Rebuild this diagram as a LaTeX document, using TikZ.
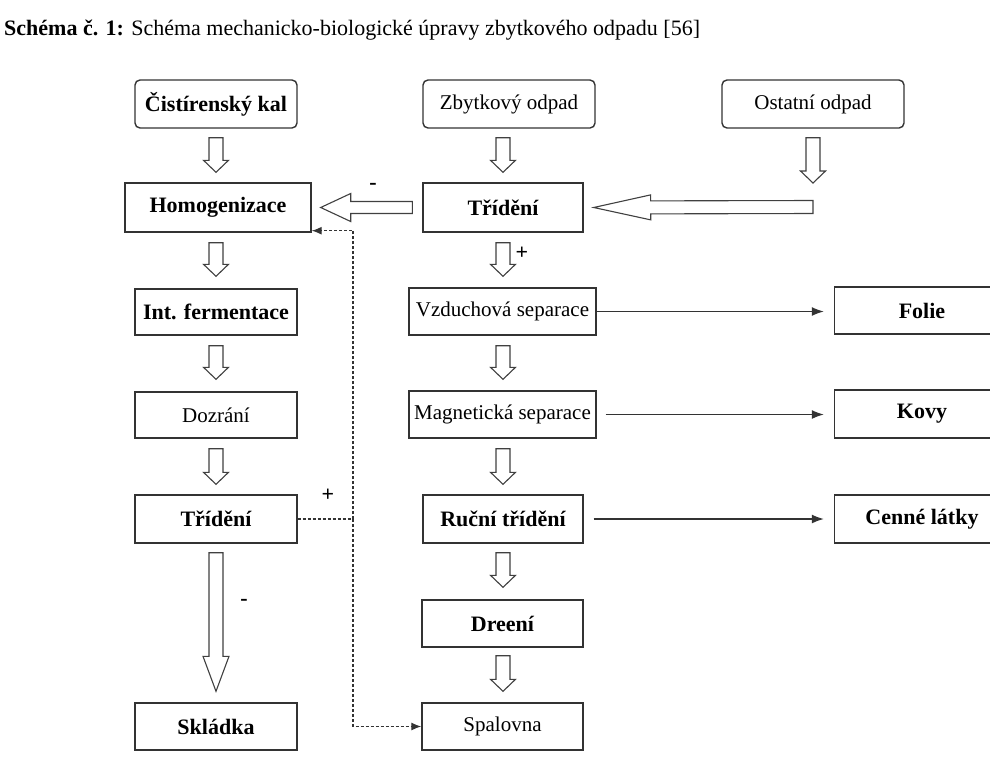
\documentclass[tikz,border=0pt]{standalone}
\usepackage{fontspec}
\setmainfont{Liberation Serif}
\usetikzlibrary{calc,arrows.meta}
\newcommand\hollowarrow[5]{%
  \path #1 coordinate (ha-s) #2 coordinate (ha-t) ($(ha-t)!#5!(ha-s)$) coordinate (ha-b);
  \draw[blockarrow] ($(ha-s)!#3!90:(ha-t)$) -- ($(ha-b)!#3!-90:(ha-s)$) -- ($(ha-b)!#4!-90:(ha-s)$)
    -- (ha-t) -- ($(ha-b)!#4!90:(ha-s)$) -- ($(ha-b)!#3!90:(ha-s)$) -- ($(ha-s)!#3!-90:(ha-t)$) -- cycle;}
\begin{document}
\begin{tikzpicture}[x=1pt,y=-1pt,
    box/.style={draw=black!80,line width=1.4pt,minimum height=47pt,inner sep=0pt,font=\fontsize{21}{24}\selectfont},
    bbox/.style={box,font=\fontsize{22}{24}\selectfont\bfseries},
    round/.style={rounded corners=5pt},
    blockarrow/.style={draw=black!75,line width=1.1pt,fill=white,line join=miter},
    flow/.style={draw=black!80,line width=1.2pt,shorten >=10pt,-{Latex[length=12pt,width=9pt]}},
    feedback/.style={draw=black!80,line width=1.2pt,dash pattern=on 3pt off 2pt,-{Latex[length=10pt,width=8pt]}},
    sign/.style={font=\fontsize{22}{22}\selectfont\bfseries,inner sep=0pt}]
\useasboundingbox (0,0) rectangle (990,772);
\clip (0,0) rectangle (990,772);
\node[anchor=base west,inner sep=0pt,font=\fontsize{22}{24}\selectfont] (title) at (4,35)
  {\textbf{Schéma č. 1:} Schéma mechanicko-biologické úpravy zbytkového odpadu [56]};
\node[bbox,round,minimum width=162pt,minimum height=48pt] (cist) at (216,104) {Čistírenský kal};
\node[box,round,minimum width=172pt,minimum height=48pt] (zbyt) at (509,104) {Zbytkový odpad};
\node[box,round,minimum width=182pt,minimum height=48pt] (ostat) at (813,104) {Ostatní odpad};
\node[bbox,minimum width=186pt,minimum height=49pt] (homog) at (218,207.5) {Homogenizace};
\node[bbox,minimum width=160pt,minimum height=49pt] (trid1) at (503,207.5) {Třídění};
\node[bbox,minimum width=162pt,minimum height=46pt] (intf) at (216,312) {Int. fermentace};
\node[box,minimum width=162pt,minimum height=46pt] (dozr) at (216,415) {Dozrání};
\node[bbox,minimum width=162pt,minimum height=48pt] (trid2) at (216,519) {Třídění};
\node[bbox,minimum width=162pt] (skla) at (216,726.5) {Skládka};
\node[box,minimum width=187pt] (vzdu) at (502.5,311.5) {Vzduchová separace};
\node[box,minimum width=187pt] (magn) at (502.5,414.5) {Magnetická separace};
\node[bbox,minimum width=160pt,minimum height=48pt] (rucn) at (503,519) {Ruční třídění};
\node[bbox,minimum width=161pt] (dren) at (502.5,623.5) {Dreení};
\node[box,minimum width=161pt] (spal) at (502.5,726.5) {Spalovna};
\node[bbox,minimum width=175pt] (foli) at (922,310.5) {Folie};
\node[bbox,minimum width=175pt,minimum height=48pt] (kovy) at (922,414) {Kovy};
\node[bbox,minimum width=175pt,minimum height=48pt] (cenn) at (922,519) {Cenné látky};
\coordinate (ostin) at (813,207);
\coordinate (junc) at (353,519);
\hollowarrow{($(cist.south)+(0,9)$)}{($(cist.south|-homog.north)+(0,-10)$)}{7pt}{12.5pt}{12pt}
\hollowarrow{($(trid1.north|-zbyt.south)+(0,9)$)}{($(trid1.north)+(0,-10)$)}{7pt}{12.5pt}{12pt}
\hollowarrow{($(ostat.south)+(0,9)$)}{($(ostin)+(0,-24)$)}{7pt}{12.5pt}{12pt}
\hollowarrow{(ostin)}{($(trid1.east)+(10,0)$)}{6.5pt}{12.5pt}{57pt}
\hollowarrow{($(trid1.west)+(-10,0)$)}{($(homog.east)+(9,0)$)}{6pt}{14pt}{30pt}
\hollowarrow{($(intf.north|-homog.south)+(0,10)$)}{($(intf.north)+(0,-12)$)}{7pt}{12.5pt}{12pt}
\hollowarrow{($(intf.south)+(0,10)$)}{($(dozr.north)+(0,-12)$)}{7pt}{12.5pt}{12pt}
\hollowarrow{($(dozr.south)+(0,10)$)}{($(trid2.north)+(0,-10)$)}{7pt}{12.5pt}{12pt}
\hollowarrow{($(trid2.south)+(0,9)$)}{($(skla.north)+(0,-11)$)}{7pt}{13pt}{35pt}
\hollowarrow{($(trid1.south)+(0,10)$)}{($(trid1.south|-vzdu.north)+(0,-11)$)}{7pt}{12.5pt}{12pt}
\hollowarrow{($(trid1.south|-vzdu.south)+(0,10)$)}{($(trid1.south|-magn.north)+(0,-11)$)}{7pt}{12.5pt}{12pt}
\hollowarrow{($(rucn.north|-magn.south)+(0,10)$)}{($(rucn.north)+(0,-10)$)}{7pt}{12.5pt}{12pt}
\hollowarrow{($(rucn.south)+(0,9)$)}{($(rucn.south|-dren.north)+(0,-12)$)}{7pt}{12.5pt}{12pt}
\hollowarrow{($(rucn.south|-dren.south)+(0,8)$)}{($(rucn.south|-spal.north)+(0,-11)$)}{7pt}{12.5pt}{12pt}
\draw[flow] (vzdu.east) -- (vzdu.east-|foli.west);
\draw[flow,shorten <=9pt] (magn.east) -- (magn.east-|kovy.west);
\draw[flow,shorten <=10pt] (rucn.east) -- (rucn.east-|cenn.west);
\draw[feedback] (trid2.east) -- (junc) |- ([yshift=2pt]homog.south east);
\draw[feedback] (junc) |- (spal.west);
\node[sign] (m1) at (373,186) {-};
\node[sign] (p1) at (522,253) {+};
\node[sign] (p2) at (328,495) {+};
\node[sign] (m2) at (244,602) {-};
\end{tikzpicture}
\end{document}
